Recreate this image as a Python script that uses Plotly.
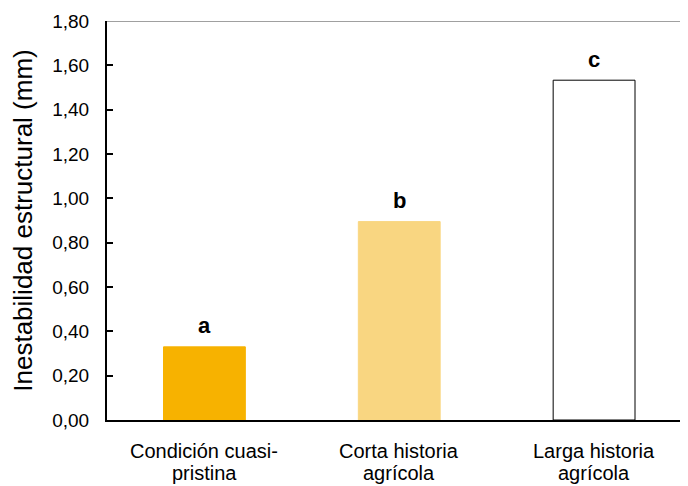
import plotly.graph_objects as go

cat_line1 = ["Condición cuasi-", "Corta historia", "Larga historia"]
cat_line2 = ["pristina", "agrícola", "agrícola"]
values = [0.33, 0.895, 1.533]
letters = ["a", "b", "c"]
colors = ["#F7B200", "#F9D681", "#FFFFFF"]
line_colors = ["#F7B200", "#F9D681", "#000000"]
ytick_vals = [0, 0.2, 0.4, 0.6, 0.8, 1.0, 1.2, 1.4, 1.6, 1.8]
ytick_text = ["0,00", "0,20", "0,40", "0,60", "0,80", "1,00", "1,20", "1,40", "1,60", "1,80"]

FONT = "Liberation Sans, Arial"
xpos = list(range(len(values)))

fig = go.Figure()
fig.add_trace(go.Bar(
    x=xpos, y=values, width=0.42,
    marker=dict(color=colors, line=dict(color=line_colors, width=1)),
))

for i, (v, t) in enumerate(zip(values, letters)):
    fig.add_annotation(x=i, y=v, text="<b>%s</b>" % t, showarrow=False,
                       yshift=21, font=dict(size=22, color="black", family=FONT))

for i, (l1, l2) in enumerate(zip(cat_line1, cat_line2)):
    fig.add_annotation(x=i, y=0, xref="x", yref="paper", text=l1, showarrow=False,
                       yanchor="middle", yshift=-31, font=dict(size=20, color="black", family=FONT))
    fig.add_annotation(x=i, y=0, xref="x", yref="paper", text=l2, showarrow=False,
                       yanchor="middle", yshift=-53, font=dict(size=20, color="black", family=FONT))

fig.add_shape(type="line", xref="paper", yref="y", x0=0, x1=1, y0=1.8, y1=1.8,
              line=dict(color="#808080", width=1.5))

fig.update_layout(
    width=680, height=478,
    margin=dict(l=98.5, r=0, t=13, b=66),
    plot_bgcolor="white", paper_bgcolor="white",
    showlegend=False,
    font=dict(family=FONT, color="black", size=19),
    xaxis=dict(
        range=[-0.5, 2.482], tickvals=xpos, showticklabels=False,
        showline=True, linecolor="black", linewidth=2, ticks="", showgrid=False,
        zeroline=False, automargin=False,
    ),
    yaxis=dict(
        range=[0, 1.8], tickvals=ytick_vals, ticktext=ytick_text,
        showline=True, linecolor="black", linewidth=2, ticks="inside", ticklen=6,
        tickwidth=2, tickcolor="black", showgrid=False, zeroline=False,
        tickfont=dict(size=19), automargin=False, ticklabelstandoff=12,
        title=dict(text="Inestabilidad estructural (mm)", font=dict(size=26), standoff=12),
    ),
)

fig.write_html("out.html")
